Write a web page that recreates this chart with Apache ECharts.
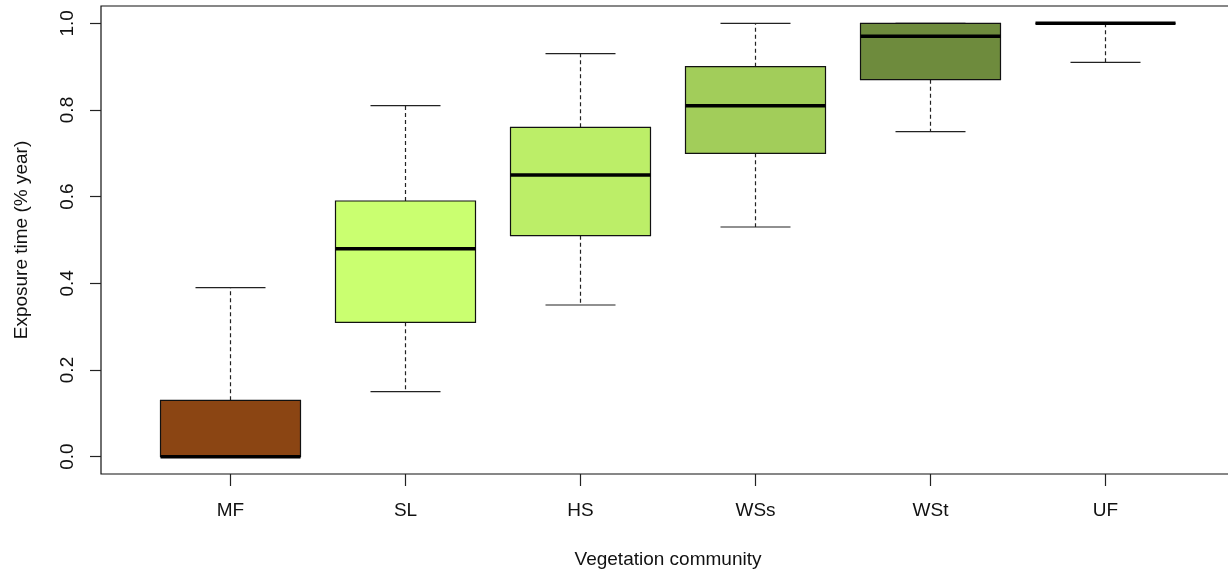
<!DOCTYPE html>
<html>
<head>
<meta charset="utf-8">
<script src="https://cdn.jsdelivr.net/npm/echarts@6/dist/echarts.min.js"></script>
<style>
  html, body { margin: 0; padding: 0; background: #ffffff; }
  #chart { width: 1228px; height: 571px; }
</style>
</head>
<body>
<div id="chart"></div>
<script>
// Exposure time per vegetation community (five-number summaries)
const categories = ['MF', 'SL', 'HS', 'WSs', 'WSt', 'UF'];
const lowerWhisker  = [0.00, 0.15, 0.35, 0.53, 0.75, 0.91];
const lowerQuartile = [0.00, 0.31, 0.51, 0.70, 0.87, 1.00];
const medianValues  = [0.00, 0.48, 0.65, 0.81, 0.97, 1.00];
const upperQuartile = [0.13, 0.59, 0.76, 0.90, 1.00, 1.00];
const upperWhisker  = [0.39, 0.81, 0.93, 1.00, 1.00, 1.00];
const yTicks = [0, 0.2, 0.4, 0.6, 0.8, 1.0];

// Box fill colours, one per community
const boxFill = ['#8B4513', '#CAFF70', '#BCEE68', '#A2CD5A', '#6E8B3D', '#6E8B3D'];

const FONT = '"Liberation Sans", Arial, sans-serif';
const TEXT = '#111111';

const positions = categories.map((c, i) => i + 1);
const boxData = categories.map((c, i) => [
  positions[i], lowerWhisker[i], lowerQuartile[i], medianValues[i], upperQuartile[i], upperWhisker[i]
]);

function renderBox(params, api) {
  const x = api.value(0);
  const lo = api.value(1), q1 = api.value(2), med = api.value(3), q3 = api.value(4), hi = api.value(5);
  const halfBox = 0.4, halfCap = 0.2;
  const p = (vx, vy) => api.coord([vx, vy]);
  const seg = (a, b, style) => ({
    type: 'line',
    shape: { x1: a[0], y1: a[1], x2: b[0], y2: b[1] },
    style: style
  });
  const dashed = { stroke: '#222', lineWidth: 1.2, lineDash: [4, 3], fill: null };
  const solid = { stroke: '#222', lineWidth: 1.2, fill: null };
  const children = [];
  // whiskers
  if (hi > q3) children.push(seg(p(x, q3), p(x, hi), dashed));
  if (lo < q1) children.push(seg(p(x, q1), p(x, lo), dashed));
  // staples
  children.push(seg(p(x - halfCap, hi), p(x + halfCap, hi), solid));
  children.push(seg(p(x - halfCap, lo), p(x + halfCap, lo), solid));
  // box
  const tl = p(x - halfBox, q3), br = p(x + halfBox, q1);
  children.push({
    type: 'rect',
    shape: { x: tl[0], y: tl[1], width: br[0] - tl[0], height: br[1] - tl[1] },
    style: { fill: boxFill[params.dataIndex], stroke: '#111', lineWidth: 1.2 }
  });
  // median
  children.push(seg(p(x - halfBox, med), p(x + halfBox, med), { stroke: '#000', lineWidth: 3.5, fill: null }));
  return { type: 'group', children: children };
}

const chart = echarts.init(document.getElementById('chart'), null, { renderer: 'canvas' });
chart.setOption({
  animation: false,
  backgroundColor: '#ffffff',
  grid: {
    left: 101, top: 6, width: 1134, height: 468,
    outerBoundsMode: 'none',
    containLabel: false,
    show: true, borderColor: '#111', borderWidth: 1.2, backgroundColor: 'transparent'
  },
  xAxis: {
    type: 'value',
    min: 0.26, max: 6.74,
    name: 'Vegetation community',
    nameLocation: 'middle',
    nameGap: 76,
    nameTextStyle: { fontFamily: FONT, fontSize: 19, color: TEXT },
    axisLine: { show: false, onZero: false },
    splitLine: { show: false },
    axisTick: { show: true, length: 12, customValues: positions, lineStyle: { color: '#222', width: 1.2 } },
    axisLabel: {
      customValues: positions,
      margin: 27,
      fontFamily: FONT, fontSize: 19, color: TEXT,
      formatter: v => categories[Math.round(v) - 1]
    }
  },
  yAxis: {
    type: 'value',
    min: -0.04, max: 1.04,
    name: 'Exposure time (% year)',
    nameLocation: 'middle',
    nameRotate: 90,
    nameGap: 70,
    nameTextStyle: { fontFamily: FONT, fontSize: 19, color: TEXT },
    axisLine: { show: false, onZero: false },
    splitLine: { show: false },
    axisTick: { show: true, length: 11, customValues: yTicks, lineStyle: { color: '#222', width: 1.2 } },
    axisLabel: {
      customValues: yTicks,
      rotate: 90,
      margin: 24,
      fontFamily: FONT, fontSize: 19, color: TEXT,
      formatter: v => v.toFixed(1)
    }
  },
  series: [{
    type: 'custom',
    renderItem: renderBox,
    encode: { x: 0, y: [1, 2, 3, 4, 5] },
    data: boxData,
    clip: false
  }]
});
</script>
</body>
</html>
